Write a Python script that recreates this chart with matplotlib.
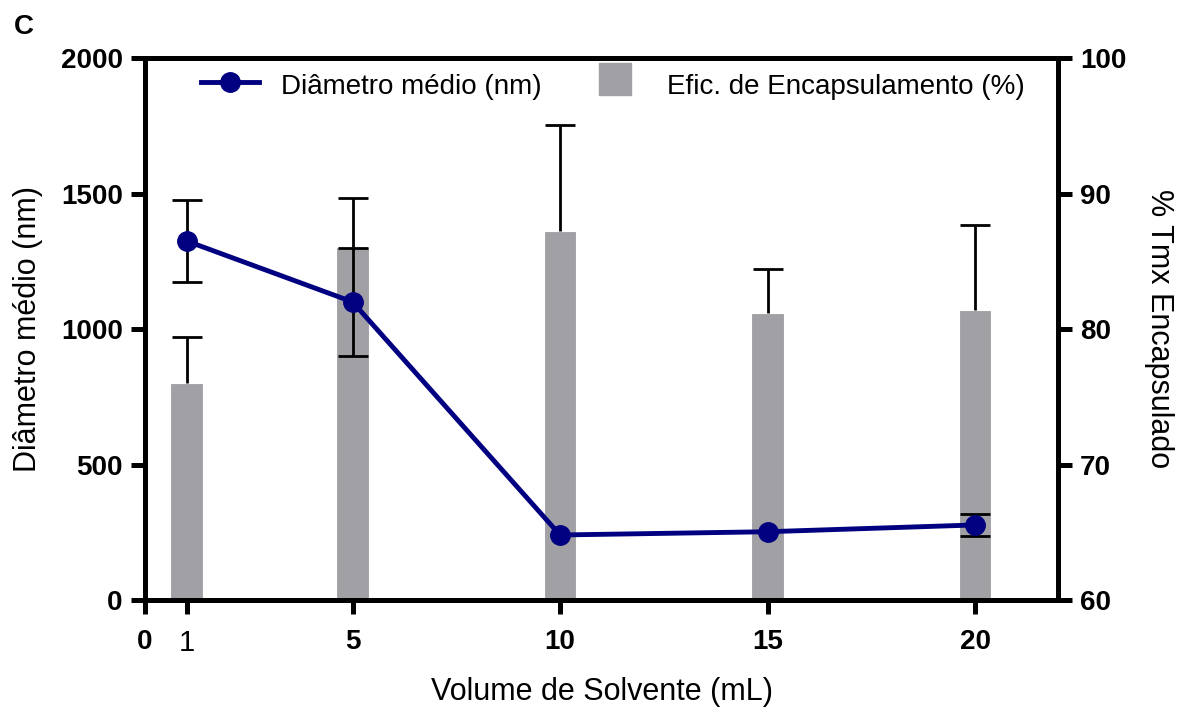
import matplotlib.pyplot as plt
import matplotlib.patches as mpatches
from matplotlib.legend_handler import HandlerPatch
import numpy as np

plt.rcParams['font.family'] = ['Liberation Sans', 'DejaVu Sans']

volume = [1, 5, 10, 15, 20]
diametro = [1325, 1100, 240, 252, 277]
diametro_err = [150, 198, 0, 0, 42]
eficiencia = [76.0, 86.05, 87.25, 81.2, 81.4]
eficiencia_err = [3.4, 3.65, 7.8, 3.2, 6.3]
xticks = [0, 1, 5, 10, 15, 20]
xtick_labels = ['0', '1', '5', '10', '15', '20']

navy = '#000080'
gray = '#a1a0a5'
base = 60


def square_patch(legend, orig_handle, xdescent, ydescent, width, height, fontsize):
    side = height * 1.05
    return mpatches.Rectangle((xdescent + (width - side) / 2, ydescent - 0.22 * side), side, side)


fig = plt.figure(figsize=(11.84, 7.09), dpi=100)
ax = fig.add_axes([0.1225, 0.1537, 0.7711, 0.7645])
ax2 = ax.twinx()

# bars on the right axis (only upper error), line on the left axis drawn on top
ax2.bar(volume, np.array(eficiencia) - base, width=0.78, bottom=base, color=gray,
        edgecolor='white', linewidth=0.8, zorder=2)
eb = ax2.errorbar(volume, eficiencia, yerr=[np.zeros(len(volume)), eficiencia_err], fmt='none',
                  ecolor='black', elinewidth=2, capsize=11, capthick=2, zorder=3)
eb[1][0].set_visible(False)
ax2.set_ylim(60, 100)
ax2.set_yticks([60, 70, 80, 90, 100])

# error bars only where there is a visible error
has_err = np.array(diametro_err) > 0
ax.errorbar(np.array(volume)[has_err], np.array(diametro)[has_err], yerr=np.array(diametro_err)[has_err],
            fmt='none', ecolor='black', elinewidth=2, capsize=11, capthick=2, zorder=4)
ax.plot(volume, diametro, color=navy, lw=3.5, marker='o', markersize=14, zorder=5)
ax.set_zorder(ax2.get_zorder() + 1)
ax.patch.set_visible(False)

ax.set_xlim(0, 22)
ax.set_ylim(0, 2000)
ax.set_yticks([0, 500, 1000, 1500, 2000])
ax.set_xticks(xticks)
ax.set_xticklabels(xtick_labels)

for a in (ax, ax2):
    for s in a.spines.values():
        s.set_linewidth(3.6)
    a.tick_params(width=3.6, length=10, labelsize=20, pad=6)
ax.tick_params(axis='x', pad=11)
for lab in ax.get_yticklabels() + ax.get_xticklabels() + ax2.get_yticklabels():
    lab.set_fontweight('bold')
ax.get_xticklabels()[1].set_fontweight('normal')
ax.get_xticklabels()[1].set_fontsize(21)

ax.set_xlabel('Volume de Solvente (mL)', fontsize=22, labelpad=14)
ax.set_ylabel('Diâmetro médio (nm)', fontsize=22, labelpad=13)
ax2.set_ylabel('% Tmx Encapsulado', fontsize=22, rotation=270, labelpad=34)

leg_line = plt.Line2D([], [], color=navy, lw=3.5, marker='o', markersize=14)
leg_bar = mpatches.Patch(color=gray)
ax.legend([leg_line, leg_bar], ['Diâmetro médio (nm)', 'Efic. de Encapsulamento (%)'],
          loc='upper center', bbox_to_anchor=(0.512, 1.025), ncol=2, frameon=False, fontsize=20,
          handlelength=2.1, handleheight=1.3, columnspacing=1.6, handletextpad=0.8,
          handler_map={mpatches.Patch: HandlerPatch(patch_func=square_patch)})

fig.text(0.012, 0.962, 'C', fontsize=20, fontweight='bold', va='center')

fig.savefig('out.png', dpi=100)
